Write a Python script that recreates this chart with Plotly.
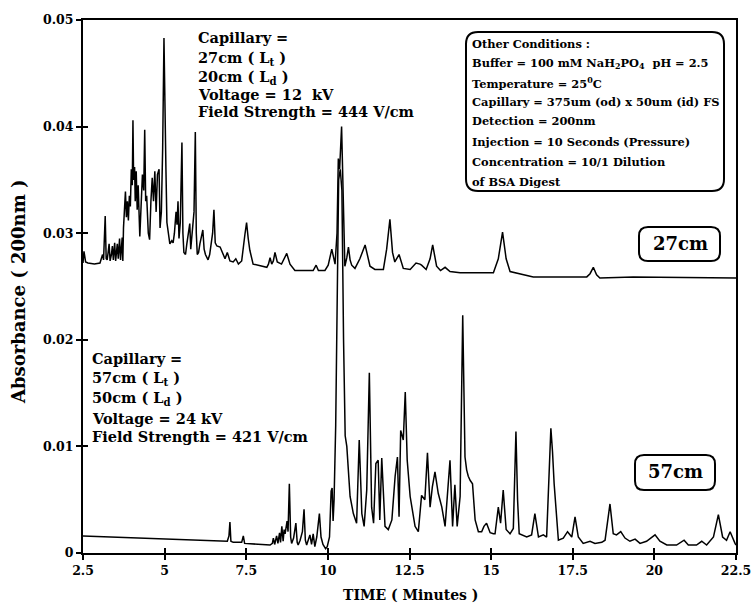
import plotly.graph_objects as go

# ---------------- data ----------------
time_27cm = [2.50, 2.53, 2.58, 2.65, 2.85, 3.02, 3.06, 3.10, 3.13, 3.18, 3.21, 3.24, 3.27, 3.30, 3.33,
             3.37, 3.40, 3.43, 3.47, 3.50, 3.55, 3.58, 3.62, 3.65, 3.70, 3.72, 3.74, 3.77, 3.80, 3.83,
             3.86, 3.89, 3.92, 3.95, 3.98, 4.01, 4.03, 4.05, 4.08, 4.10, 4.13, 4.16, 4.19, 4.24, 4.28,
             4.32, 4.36, 4.39, 4.42, 4.45, 4.50, 4.54, 4.58, 4.62, 4.66, 4.70, 4.74, 4.78, 4.83, 4.86,
             4.90, 4.94, 4.98, 5.01, 5.04, 5.07, 5.12, 5.16, 5.22, 5.26, 5.30, 5.35, 5.38, 5.41, 5.44,
             5.48, 5.53, 5.56, 5.59, 5.64, 5.68, 5.72, 5.77, 5.80, 5.85, 5.90, 5.94, 5.97, 6.00, 6.04,
             6.08, 6.12, 6.17, 6.21, 6.25, 6.33, 6.38, 6.47, 6.51, 6.55, 6.60, 6.70, 6.85, 6.92, 7.00,
             7.10, 7.18, 7.26, 7.36, 7.46, 7.51, 7.56, 7.61, 7.71, 7.87, 8.13, 8.18, 8.23, 8.28, 8.33,
             8.38, 8.45, 8.58, 8.74, 8.84, 8.99, 9.55, 9.64, 9.71, 9.91, 10.01, 10.12, 10.22, 10.28, 10.32,
             10.36, 10.42, 10.47, 10.52, 10.58, 10.63, 10.68, 10.73, 10.83, 10.98, 11.14, 11.29, 11.44, 11.54, 11.70,
             11.80, 11.90, 11.98, 12.05, 12.18, 12.31, 12.52, 12.70, 12.82, 12.87, 13.01, 13.13, 13.21, 13.33, 13.45,
             13.59, 13.74, 14.05, 15.07, 15.22, 15.35, 15.46, 15.58, 15.88, 16.29, 17.93, 18.03, 18.13, 18.23, 18.33,
             19.35, 22.50]
abs_27cm = [0.0272, 0.0283, 0.0273, 0.0272, 0.0271, 0.0272, 0.0276, 0.0280, 0.0275, 0.0316, 0.0276, 0.0275, 0.0282, 0.0290, 0.0274,
            0.0280, 0.0288, 0.0275, 0.0291, 0.0274, 0.0290, 0.0276, 0.0295, 0.0275, 0.0296, 0.0274, 0.0305, 0.0320, 0.0339, 0.0315,
            0.0330, 0.0312, 0.0335, 0.0325, 0.0360, 0.0345, 0.0406, 0.0350, 0.0362, 0.0330, 0.0358, 0.0322, 0.0345, 0.0297, 0.0330,
            0.0355, 0.0340, 0.0397, 0.0330, 0.0335, 0.0300, 0.0294, 0.0330, 0.0352, 0.0330, 0.0358, 0.0320, 0.0355, 0.0360, 0.0305,
            0.0320, 0.0380, 0.0483, 0.0400, 0.0360, 0.0310, 0.0300, 0.0290, 0.0293, 0.0291, 0.0300, 0.0320, 0.0308, 0.0330, 0.0295,
            0.0310, 0.0385, 0.0300, 0.0282, 0.0280, 0.0290, 0.0300, 0.0309, 0.0285, 0.0300, 0.0320, 0.0395, 0.0300, 0.0280, 0.0282,
            0.0290, 0.0296, 0.0303, 0.0285, 0.0280, 0.0275, 0.0280, 0.0300, 0.0322, 0.0291, 0.0288, 0.0287, 0.0276, 0.0282, 0.0274,
            0.0273, 0.0276, 0.0271, 0.0274, 0.0299, 0.0310, 0.0295, 0.0284, 0.0271, 0.0270, 0.0268, 0.0271, 0.0277, 0.0271, 0.0274,
            0.0282, 0.0273, 0.0271, 0.0281, 0.0271, 0.0265, 0.0265, 0.0270, 0.0265, 0.0265, 0.0270, 0.0285, 0.0271, 0.0300, 0.0370,
            0.0360, 0.0400, 0.0330, 0.0269, 0.0277, 0.0287, 0.0275, 0.0270, 0.0267, 0.0276, 0.0289, 0.0269, 0.0266, 0.0266, 0.0266,
            0.0285, 0.0313, 0.0282, 0.0273, 0.0280, 0.0267, 0.0266, 0.0272, 0.0271, 0.0270, 0.0266, 0.0276, 0.0289, 0.0269, 0.0265,
            0.0268, 0.0264, 0.0263, 0.0263, 0.0276, 0.0301, 0.0276, 0.0264, 0.0262, 0.0259, 0.0259, 0.0262, 0.0268, 0.0261, 0.0258,
            0.0259, 0.0258]

time_57cm = [2.50, 3.50, 5.06, 6.00, 6.70, 6.92, 6.97, 7.00, 7.03, 7.10, 7.36, 7.41, 7.45, 8.00, 8.23,
             8.30, 8.33, 8.37, 8.43, 8.47, 8.52, 8.55, 8.59, 8.63, 8.66, 8.69, 8.75, 8.78, 8.82, 8.86,
             8.89, 8.95, 9.02, 9.06, 9.09, 9.15, 9.22, 9.27, 9.31, 9.35, 9.40, 9.45, 9.50, 9.55, 9.60,
             9.66, 9.74, 9.79, 9.85, 9.93, 9.98, 10.05, 10.10, 10.13, 10.16, 10.19, 10.24, 10.28, 10.33, 10.38,
             10.43, 10.48, 10.53, 10.58, 10.68, 10.78, 10.88, 10.96, 11.04, 11.11, 11.19, 11.27, 11.34, 11.40, 11.47,
             11.54, 11.59, 11.65, 11.75, 11.85, 11.96, 12.06, 12.13, 12.18, 12.23, 12.31, 12.37, 12.43, 12.52, 12.67,
             12.77, 12.87, 12.97, 13.05, 13.13, 13.20, 13.28, 13.38, 13.49, 13.59, 13.67, 13.74, 13.82, 13.89, 13.96,
             14.05, 14.13, 14.20, 14.25, 14.30, 14.36, 14.43, 14.51, 14.61, 14.71, 14.78, 14.86, 14.97, 15.07, 15.12,
             15.22, 15.25, 15.29, 15.37, 15.42, 15.46, 15.58, 15.68, 15.76, 15.81, 15.86, 16.09, 16.24, 16.34, 16.45,
             16.60, 16.70, 16.75, 16.83, 16.88, 16.93, 17.06, 17.21, 17.34, 17.47, 17.57, 17.67, 17.82, 18.03, 18.18,
             18.39, 18.49, 18.64, 18.74, 18.84, 18.97, 19.10, 19.25, 19.41, 19.56, 19.76, 20.02, 20.17, 20.38, 20.68,
             20.91, 21.04, 21.29, 21.45, 21.60, 21.81, 21.96, 22.09, 22.21, 22.32, 22.47, 22.50]
abs_57cm = [0.0016, 0.0015, 0.00128, 0.0012, 0.00116, 0.0011, 0.0016, 0.0029, 0.0011, 0.0010, 0.0010, 0.0016, 0.0009, 0.0008, 0.00075,
            0.0009, 0.0014, 0.0008, 0.0016, 0.0009, 0.0019, 0.0010, 0.0025, 0.0011, 0.0022, 0.0018, 0.0030, 0.0020, 0.0065, 0.0015,
            0.0009, 0.0014, 0.0028, 0.0010, 0.00075, 0.0012, 0.0020, 0.0041, 0.0012, 0.00075, 0.0012, 0.0017, 0.0008, 0.0018, 0.0006,
            0.0015, 0.0037, 0.0015, 0.0008, 0.0004, 0.0006, 0.0015, 0.0058, 0.0061, 0.0030, 0.0050, 0.0120, 0.0250, 0.0350, 0.0360,
            0.0340, 0.0200, 0.0110, 0.0100, 0.0053, 0.0037, 0.0028, 0.0106, 0.0037, 0.0025, 0.0059, 0.0169, 0.0043, 0.0028, 0.0084,
            0.0087, 0.0031, 0.0089, 0.0025, 0.0022, 0.0031, 0.0072, 0.0090, 0.0034, 0.0115, 0.0106, 0.0151, 0.0087, 0.0053, 0.0025,
            0.0020, 0.0054, 0.0050, 0.0094, 0.0043, 0.0062, 0.0076, 0.0056, 0.0043, 0.0025, 0.0059, 0.0087, 0.0025, 0.0064, 0.0025,
            0.0053, 0.0223, 0.0090, 0.0078, 0.0072, 0.0068, 0.0065, 0.0031, 0.0020, 0.0020, 0.0025, 0.0028, 0.0019, 0.0018, 0.0018,
            0.0043, 0.0035, 0.0028, 0.0059, 0.0040, 0.0022, 0.0018, 0.0023, 0.0114, 0.0050, 0.0018, 0.0015, 0.0017, 0.0037, 0.0015,
            0.0017, 0.0015, 0.0060, 0.0117, 0.0095, 0.0065, 0.0012, 0.0014, 0.0020, 0.0015, 0.0034, 0.0015, 0.0009, 0.0011, 0.0009,
            0.0010, 0.0012, 0.0046, 0.0018, 0.0017, 0.0020, 0.0014, 0.0011, 0.0013, 0.0009, 0.0011, 0.0017, 0.0011, 0.00075, 0.00075,
            0.0012, 0.00075, 0.00075, 0.0011, 0.00075, 0.0015, 0.0036, 0.0015, 0.0012, 0.0020, 0.0009, 0.00075]

x_tick_vals = [2.5, 5, 7.5, 10, 12.5, 15, 17.5, 20, 22.5]
x_tick_text = ["2.5", "5", "7.5", "10", "12.5", "15", "17.5", "20", "22.5"]
y_tick_vals = [0, 0.01, 0.02, 0.03, 0.04, 0.05]
y_tick_text = ["0", "0.01", "0.02", "0.03", "0.04", "0.05"]

label_27 = ["Capillary =", "27cm ( L<sub>t</sub> )", "20cm ( L<sub>d</sub> )",
            "Voltage = 12  kV", "Field Strength = 444 V/cm"]
label_57 = ["Capillary =", "57cm ( L<sub>t</sub> )", "50cm ( L<sub>d</sub> )",
            "Voltage = 24 kV", "Field Strength = 421 V/cm"]
conditions = ["Other Conditions :",
              "Buffer = 100 mM NaH<sub>2</sub>PO<sub>4</sub>  pH = 2.5",
              "Temperature = 25<sup>0</sup>C",
              "Capillary = 375um (od) x 50um (id) FS",
              "Detection = 200nm",
              "Injection = 10 Seconds (Pressure)",
              "Concentration = 10/1 Dilution",
              "of BSA Digest"]

# ---------------- layout geometry (pixels) ----------------
W, H = 751, 607
L, R, T, B = 83, 736, 20, 553
PW, PH = R - L, B - T
FONT = "DejaVu Serif"


def px(xp):
    return (xp - L) / PW


def py(yp):
    return (B - yp) / PH


def rounded_box(x0, y0, x1, y1, r):
    rx, ry = r / PW, r / PH
    X0, X1 = px(x0), px(x1)
    Y0, Y1 = py(y0), py(y1)   # Y0 top (larger), Y1 bottom
    return (f"M {X0+rx},{Y0} L {X1-rx},{Y0} Q {X1},{Y0} {X1},{Y0-ry} "
            f"L {X1},{Y1+ry} Q {X1},{Y1} {X1-rx},{Y1} "
            f"L {X0+rx},{Y1} Q {X0},{Y1} {X0},{Y1+ry} "
            f"L {X0},{Y0-ry} Q {X0},{Y0} {X0+rx},{Y0} Z")


fig = go.Figure()
fig.add_trace(go.Scatter(x=time_27cm, y=abs_27cm, mode="lines",
                         line=dict(color="black", width=1.5), showlegend=False, hoverinfo="skip"))
fig.add_trace(go.Scatter(x=time_57cm, y=abs_57cm, mode="lines",
                         line=dict(color="black", width=1.5), showlegend=False, hoverinfo="skip"))
# dummy trace so the overlay axes (inner tick marks) are drawn
fig.add_trace(go.Scatter(x=[None], y=[None], xaxis="x2", yaxis="y2", showlegend=False, hoverinfo="skip"))

tickfont = dict(family=FONT, size=12.5, color="black", weight="bold")
fig.update_layout(
    width=W, height=H,
    margin=dict(l=L, r=W - R, t=T, b=H - B, autoexpand=False),
    paper_bgcolor="white", plot_bgcolor="white",
    xaxis=dict(range=[2.5, 22.5], tickvals=x_tick_vals, ticktext=x_tick_text,
               showgrid=False, zeroline=False, showline=True, linecolor="black", linewidth=2,
               mirror=True, ticks="outside", ticklen=5, tickwidth=2, tickcolor="black",
               tickfont=tickfont, ticklabeloverflow="allow", automargin=False),
    yaxis=dict(range=[0, 0.05], tickvals=y_tick_vals, ticktext=y_tick_text,
               showgrid=False, zeroline=False, showline=True, linecolor="black", linewidth=2,
               mirror=True, ticks="outside", ticklen=5, tickwidth=2, tickcolor="black",
               tickfont=tickfont, ticklabeloverflow="allow", automargin=False),
    xaxis2=dict(range=[2.5, 22.5], overlaying="x", side="bottom", anchor="y2",
                tickvals=x_tick_vals, showticklabels=False, ticks="inside", ticklen=5,
                tickwidth=2, tickcolor="black", showgrid=False, zeroline=False, showline=False,
                automargin=False),
    yaxis2=dict(range=[0, 0.05], overlaying="y", side="left", anchor="x2",
                tickvals=y_tick_vals, showticklabels=False, ticks="inside", ticklen=5,
                tickwidth=2, tickcolor="black", showgrid=False, zeroline=False, showline=False,
                automargin=False),
)

annotations = []
# axis titles
annotations.append(dict(text="Absorbance ( 200nm )", xref="paper", yref="paper",
                        x=px(18), y=py(292), textangle=-90, showarrow=False,
                        xanchor="center", yanchor="middle",
                        font=dict(family=FONT, size=18, color="black", weight="bold")))
annotations.append(dict(text="TIME ( Minutes )", xref="paper", yref="paper",
                        x=px(411), y=py(595), showarrow=False, xanchor="center", yanchor="middle",
                        font=dict(family=FONT, size=14, color="black", weight="bold")))

# 27 cm text block
for txt, yy in zip(label_27, [38, 58, 77, 94, 111]):
    annotations.append(dict(text=txt, xref="paper", yref="paper", x=px(196), y=py(yy),
                            showarrow=False, xanchor="left", yanchor="middle",
                            font=dict(family=FONT, size=14.5, color="black", weight="bold")))
# 57 cm text block
for txt, yy in zip(label_57, [358, 378, 398, 418, 436]):
    annotations.append(dict(text=txt, xref="paper", yref="paper", x=px(90), y=py(yy),
                            showarrow=False, xanchor="left", yanchor="middle",
                            font=dict(family=FONT, size=14.5, color="black", weight="bold")))
# conditions box text
for txt, yy in zip(conditions, [44, 63, 83, 102, 121, 142, 162, 182]):
    annotations.append(dict(text=txt, xref="paper", yref="paper", x=px(470), y=py(yy),
                            showarrow=False, xanchor="left", yanchor="middle",
                            font=dict(family=FONT, size=11.4, color="black", weight="bold")))
# capillary length labels
annotations.append(dict(text="27cm", xref="paper", yref="paper", x=px(680), y=py(243),
                        showarrow=False, xanchor="center", yanchor="middle",
                        font=dict(family=FONT, size=18, color="black", weight="bold")))
annotations.append(dict(text="57cm", xref="paper", yref="paper", x=px(675), y=py(472),
                        showarrow=False, xanchor="center", yanchor="middle",
                        font=dict(family=FONT, size=18, color="black", weight="bold")))
fig.update_layout(annotations=annotations)

shapes = [
    dict(type="path", xref="paper", yref="paper", path=rounded_box(466, 32, 724, 191, 12),
         line=dict(color="black", width=2)),
    dict(type="path", xref="paper", yref="paper", path=rounded_box(639, 227, 720, 261, 9),
         line=dict(color="black", width=2)),
    dict(type="path", xref="paper", yref="paper", path=rounded_box(635, 455, 715, 490, 9),
         line=dict(color="black", width=2)),
]
fig.update_layout(shapes=shapes)

fig.write_html("out.html", config={"displayModeBar": False},
               post_script="document.body.style.margin='0';document.body.style.overflow='hidden';")
